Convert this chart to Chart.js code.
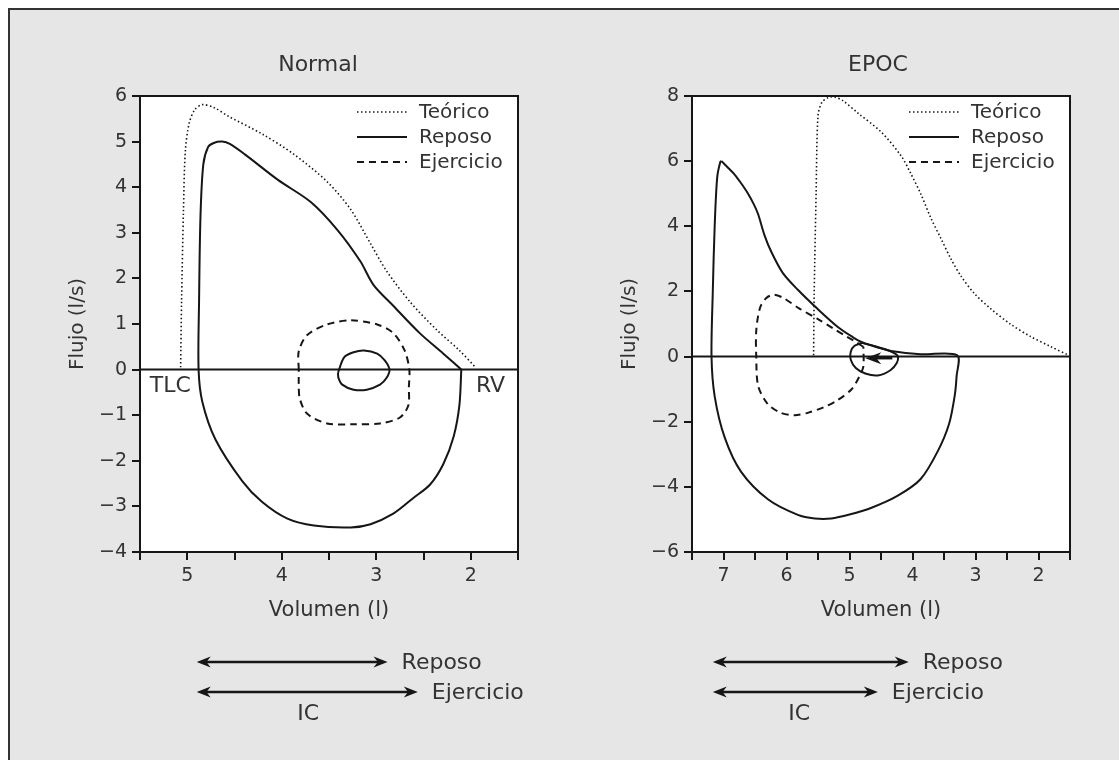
<!DOCTYPE html>
<html lang="es">
<head>
<meta charset="utf-8">
<title>Curvas flujo-volumen: Normal y EPOC</title>
<script src="https://cdn.jsdelivr.net/npm/chart.js@4.4.1/dist/chart.umd.min.js"></script>
<style>
  html, body { margin: 0; padding: 0; background: #fff; }
  body { width: 1119px; height: 760px; overflow: hidden; position: relative; }
  #frame { position: absolute; left: 8px; top: 8px; width: 1120px; height: 760px; border: 2px solid #333; background: #e6e6e6; }
  .panel { position: absolute; top: 0; width: 560px; height: 760px; }
  #normalWrap { left: 0; }
  #epocWrap { left: 552px; }
</style>
</head>
<body>
<div id="frame"></div>
<div class="panel" id="normalWrap"><canvas id="normalChart"></canvas></div>
<div class="panel" id="epocWrap"><canvas id="epocChart"></canvas></div>
<script>
// [volumen (l), flujo (l/s)]

// --- Normal ---
const normalTeorico = [
  [5.07, 0.05], [5.06, 1.5], [5.04, 3.5], [5.02, 4.8], [4.98, 5.4], [4.92, 5.7],
  [4.84, 5.81], [4.72, 5.75], [4.56, 5.55], [4.21, 5.17], [3.87, 4.72], [3.52, 4.12],
  [3.27, 3.51], [3.06, 2.76], [2.89, 2.16], [2.64, 1.48], [2.36, 0.87], [2.12, 0.42], [1.95, 0.05]
];
const normalReposo = [
  [2.10, 0], [2.12, -0.78], [2.18, -1.46], [2.29, -2.07], [2.43, -2.52], [2.61, -2.82],
  [2.82, -3.16], [3.06, -3.39], [3.27, -3.46], [3.66, -3.42], [3.94, -3.27], [4.21, -2.9],
  [4.42, -2.44], [4.70, -1.54], [4.84, -0.71], [4.88, 0], [4.875, 1.5], [4.86, 3.36],
  [4.83, 4.5], [4.78, 4.88], [4.72, 4.97], [4.63, 5.0], [4.55, 4.95], [4.39, 4.72],
  [4.04, 4.16], [3.69, 3.67], [3.41, 3.06], [3.17, 2.38], [3.03, 1.86], [2.82, 1.40],
  [2.54, 0.80], [2.29, 0.35], [2.10, 0]
];
const normalTidal = [
  [3.405, -0.07], [3.34, 0.27], [3.24, 0.38], [3.13, 0.42], [2.99, 0.35], [2.91, 0.20],
  [2.86, 0.0], [2.89, -0.18], [2.96, -0.33], [3.10, -0.44], [3.24, -0.44], [3.36, -0.33],
  [3.40, -0.18], [3.405, -0.07]
];
const normalEjercicio = [
  [3.82, 0.0], [3.82, 0.4], [3.73, 0.76], [3.52, 0.99], [3.27, 1.08], [2.99, 0.99],
  [2.82, 0.8], [2.70, 0.42], [2.65, 0.0], [2.655, -0.4], [2.66, -0.78], [2.75, -1.05],
  [2.96, -1.18], [3.24, -1.2], [3.52, -1.18], [3.73, -0.97], [3.81, -0.63], [3.82, -0.3], [3.82, 0.0]
];
const normalICReposo = [4.9, 2.88];
const normalICEjercicio = [4.9, 2.56];
const normalICLabel = 3.72;

// --- EPOC ---
const epocTeorico = [
  [5.57, 0.04], [5.56, 2], [5.53, 5], [5.50, 7.4], [5.44, 7.8], [5.34, 7.95], [5.24, 7.97],
  [5.10, 7.85], [4.87, 7.48], [4.50, 6.90], [4.18, 6.16], [4.03, 5.63], [3.87, 5.0],
  [3.71, 4.26], [3.55, 3.63], [3.39, 3.0], [3.23, 2.47], [3.02, 1.94], [2.76, 1.47],
  [2.44, 0.99], [2.13, 0.62], [1.81, 0.31], [1.52, 0.04]
];
const epocReposo = [
  [7.03, 6.0], [6.92, 5.78], [6.82, 5.58], [6.72, 5.32], [6.61, 5.0], [6.52, 4.68],
  [6.45, 4.37], [6.35, 3.73], [6.24, 3.21], [6.06, 2.57], [5.82, 2.05], [5.50, 1.45],
  [5.18, 0.9], [4.95, 0.6], [4.80, 0.44], [4.55, 0.28], [4.34, 0.17], [3.87, 0.07],
  [3.29, 0.04], [3.30, -0.6], [3.33, -1.2], [3.42, -2.07], [3.60, -2.91], [3.87, -3.76],
  [4.24, -4.28], [4.66, -4.65], [5.0, -4.85], [5.29, -4.97], [5.55, -4.97], [5.82, -4.86],
  [6.29, -4.39], [6.72, -3.54], [6.98, -2.49], [7.14, -1.22], [7.19, 0], [7.17, 2],
  [7.14, 4], [7.10, 5.5], [7.05, 5.98], [7.03, 6.0]
];
const epocTidal = [
  [4.80, 0.42], [4.60, 0.32], [4.40, 0.2], [4.27, 0.08], [4.23, 0.0], [4.25, -0.2],
  [4.35, -0.42], [4.55, -0.58], [4.75, -0.52], [4.90, -0.35], [4.98, -0.1], [4.98, 0.15],
  [4.92, 0.33], [4.80, 0.42]
];
const epocEjercicio = [
  [4.78, 0.3], [4.90, 0.45], [5.05, 0.62], [5.25, 0.85], [5.50, 1.15], [5.80, 1.48],
  [6.05, 1.8], [6.20, 1.9], [6.32, 1.8], [6.42, 1.5], [6.48, 0.8], [6.48, 0], [6.45, -0.9],
  [6.30, -1.45], [6.10, -1.72], [5.87, -1.80], [5.65, -1.72], [5.40, -1.55], [5.20, -1.35],
  [4.97, -1.01], [4.84, -0.6], [4.78, -0.3], [4.78, 0.3]
];
const epocShift = [4.32, 4.75, -0.05];   // from, to, flow
const epocICReposo = [7.17, 4.06];
const epocICEjercicio = [7.17, 4.55];
const epocICLabel = 5.80;

const INK = '#161616';
const TEXT = '#333';
const FONT = '"DejaVu Sans", sans-serif';
Chart.defaults.font.family = FONT;
Chart.defaults.color = TEXT;

function curve(label, pts, dash, width) {
  return {
    label, data: pts.map(p => ({x: p[0], y: p[1]})), showLine: true,
    borderColor: INK, borderWidth: width, borderDash: dash, pointRadius: 0,
    tension: 0.3, fill: false, inLegend: true
  };
}

function arrowHead(ctx, x, y, dir, len, half) {
  ctx.beginPath();
  ctx.moveTo(x, y);
  ctx.lineTo(x - dir * len, y - half);
  ctx.lineTo(x - dir * len * 0.7, y);
  ctx.lineTo(x - dir * len, y + half);
  ctx.closePath();
  ctx.fill();
}

function hArrow(ctx, x1, x2, y, both, len, half) {
  const dir = x2 > x1 ? 1 : -1;
  ctx.beginPath();
  ctx.moveTo(x1 + (both ? dir * 5 : 0), y);
  ctx.lineTo(x2 - dir * 5, y);
  ctx.stroke();
  arrowHead(ctx, x2, y, dir, len, half);
  if (both) arrowHead(ctx, x1, y, -dir, len, half);
}

const decor = {
  id: 'decor',
  beforeDraw(chart) {
    const {ctx, chartArea: a} = chart;
    ctx.save();
    ctx.fillStyle = '#fff';
    ctx.fillRect(a.left, a.top, a.width, a.height);
    ctx.restore();
  },
  afterDraw(chart, args, o) {
    const {ctx, chartArea: a, scales: {x, y}} = chart;
    ctx.save();
    ctx.strokeStyle = INK;
    ctx.fillStyle = INK;
    ctx.lineWidth = 2;
    ctx.strokeRect(a.left, a.top, a.width, a.height);

    // title
    ctx.fillStyle = TEXT;
    ctx.font = '22px ' + FONT;
    ctx.textAlign = 'center';
    ctx.textBaseline = 'middle';
    ctx.fillText(o.title, a.left + o.titleX, a.top - 31);

    // legend inside the plot, top right
    ctx.font = '20px ' + FONT;
    ctx.textAlign = 'left';
    chart.data.datasets.filter(d => d.inLegend).forEach((d, i) => {
      const ly = a.top + 16 + i * 25;
      ctx.save();
      ctx.strokeStyle = INK;
      ctx.lineWidth = d.borderWidth;
      ctx.setLineDash(d.borderDash || []);
      ctx.beginPath();
      ctx.moveTo(a.right - 161, ly);
      ctx.lineTo(a.right - 111, ly);
      ctx.stroke();
      ctx.restore();
      ctx.fillText(d.label, a.right - 99, ly + 1);
    });

    // TLC / RV marks
    ctx.font = '22px ' + FONT;
    ctx.textAlign = 'center';
    (o.marks || []).forEach(m => ctx.fillText(m[0], x.getPixelForValue(m[1]), y.getPixelForValue(m[2])));

    // shift arrow inside the EPOC tidal loop
    if (o.shift) {
      ctx.fillStyle = INK;
      ctx.lineWidth = 2.5;
      const py = y.getPixelForValue(o.shift[2]);
      hArrow(ctx, x.getPixelForValue(o.shift[0]), x.getPixelForValue(o.shift[1]), py, false, 16, 6);
    }

    // IC arrows below the chart
    ctx.lineWidth = 2.5;
    const rows = [[o.icReposo, 'Reposo', 110], [o.icEjercicio, 'Ejercicio', 140]];
    ctx.font = '22px ' + FONT;
    rows.forEach(r => {
      const x1 = x.getPixelForValue(r[0][0]);
      const x2 = x.getPixelForValue(r[0][1]);
      const py = a.bottom + r[2];
      ctx.fillStyle = INK;
      hArrow(ctx, x1, x2, py, true, 14, 5.5);
      ctx.fillStyle = TEXT;
      ctx.textAlign = 'left';
      ctx.fillText(r[1], x2 + 14, py + 1);
    });
    ctx.textAlign = 'center';
    ctx.fillText('IC', x.getPixelForValue(o.icLabel), a.bottom + 162);
    ctx.restore();
  }
};

function makeChart(id, cfg) {
  const minus = v => (v < 0 ? '\u2212' + Math.abs(v) : String(v));
  return new Chart(document.getElementById(id), {
    type: 'scatter',
    data: {
      datasets: [
        curve('Teórico', cfg.teorico, [1.5, 2.5], 1.6),
        curve('Reposo', cfg.reposo, [], 2),
        curve('Ejercicio', cfg.ejercicio, [7, 5], 2),
        Object.assign(curve('Reposo (volumen corriente)', cfg.tidal, [], 2), {inLegend: false}),
        Object.assign(curve('eje', [[cfg.xMax, 0], [cfg.xMin, 0]], [], 2), {inLegend: false, tension: 0})
      ]
    },
    options: {
      responsive: true,
      maintainAspectRatio: false,
      animation: false,
      events: [],
      layout: { padding: { top: 96, right: 42, bottom: 137, left: 66 } },
      plugins: {
        legend: { display: false },
        tooltip: { enabled: false },
        decor: cfg.decor
      },
      scales: {
        x: {
          type: 'linear', reverse: true, min: cfg.xMin, max: cfg.xMax,
          ticks: {
            stepSize: 0.5, autoSkip: false, maxRotation: 0, padding: 5,
            font: { size: 19 }, color: TEXT,
            callback: v => (Number.isInteger(v) ? String(v) : '')
          },
          grid: { drawOnChartArea: false, drawTicks: true, tickLength: 8, color: INK, lineWidth: 2 },
          border: { display: true, color: INK, width: 2 },
          title: { display: true, text: 'Volumen (l)', font: { size: 21 }, color: TEXT, padding: 0 },
          afterFit: s => { s.height = 71; }
        },
        y: {
          type: 'linear', min: cfg.yMin, max: cfg.yMax,
          ticks: { stepSize: cfg.yStep, padding: 5, font: { size: 19 }, color: TEXT, callback: minus },
          grid: { drawOnChartArea: false, drawTicks: true, tickLength: 8, color: INK, lineWidth: 2 },
          border: { display: true, color: INK, width: 2 },
          title: { display: true, text: 'Flujo (l/s)', font: { size: 20 }, color: TEXT, padding: 0 },
          afterFit: s => { s.width = 74; }
        }
      }
    },
    plugins: [decor]
  });
}

makeChart('normalChart', {
  teorico: normalTeorico, reposo: normalReposo, ejercicio: normalEjercicio, tidal: normalTidal,
  xMin: 1.5, xMax: 5.5, yMin: -4, yMax: 6, yStep: 1,
  decor: {
    title: 'Normal', titleX: 178,
    marks: [['TLC', 5.18, -0.37], ['RV', 1.79, -0.37]],
    icReposo: normalICReposo, icEjercicio: normalICEjercicio, icLabel: normalICLabel
  }
});

makeChart('epocChart', {
  teorico: epocTeorico, reposo: epocReposo, ejercicio: epocEjercicio, tidal: epocTidal,
  xMin: 1.5, xMax: 7.5, yMin: -6, yMax: 8, yStep: 2,
  decor: {
    title: 'EPOC', titleX: 186,
    shift: epocShift,
    icReposo: epocICReposo, icEjercicio: epocICEjercicio, icLabel: epocICLabel
  }
});
</script>
</body>
</html>
